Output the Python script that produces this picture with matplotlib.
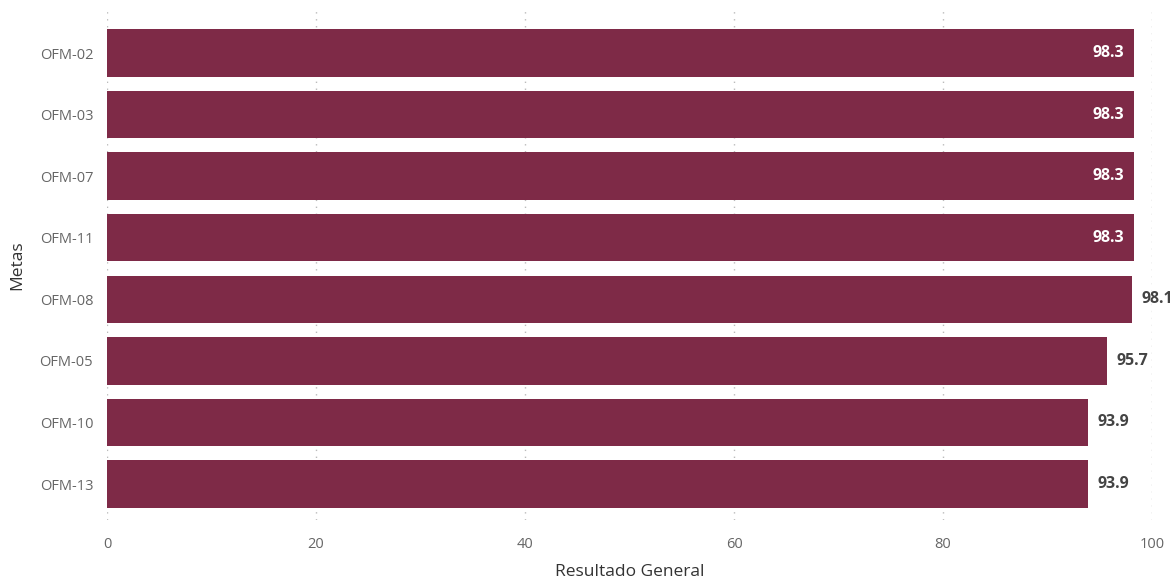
import numpy as np
from matplotlib import pyplot as plt

plt.rcParams['font.family'] = ['Open Sans', 'DejaVu Sans']

metas = ['OFM-02', 'OFM-03', 'OFM-07', 'OFM-11', 'OFM-08', 'OFM-05', 'OFM-10', 'OFM-13']
resultado = [98.3, 98.3, 98.3, 98.3, 98.1, 95.7, 93.9, 93.9]
xticks = [0, 20, 40, 60, 80, 100]

vino = '#7E2A47'

fig = plt.figure(figsize=(11.7, 5.83), dpi=100)
ax = fig.add_axes([0.0915, 0.108, 0.8931, 0.875])

y = np.arange(len(metas))
ax.barh(y, resultado, height=0.77, color=vino, zorder=2)

# etiquetas de datos: adentro si es el maximo, afuera si no
vmax = max(resultado)
for yi, v in zip(y, resultado):
    if v >= vmax:
        ax.text(v - 1.0, yi, f'{v:.1f}', ha='right', va='center',
                color='white', fontsize=11.5, fontweight='bold', zorder=3)
    else:
        ax.text(v + 0.9, yi, f'{v:.1f}', ha='left', va='center',
                color='#444444', fontsize=11.5, fontweight='bold', zorder=3)

ax.set_xlim(0, 100)
ax.set_ylim(7.585, -0.70)
ax.set_xticks(xticks)
ax.set_yticks(y)
ax.set_yticklabels(metas)
ax.tick_params(axis='both', length=0, labelsize=10.5, labelcolor='#666666')
ax.tick_params(axis='x', pad=12)
ax.tick_params(axis='y', pad=10)

ax.grid(axis='x', linestyle=(0, (1, 4)), color='#bbbbbb', linewidth=1, zorder=0)
for s in ax.spines.values():
    s.set_visible(False)

ax.set_xlabel('Resultado General', fontsize=12.5, color='#333333', labelpad=9)
ax.set_ylabel('Metas', fontsize=12.5, color='#333333', labelpad=10)

fig.savefig('out.png', dpi=100)
